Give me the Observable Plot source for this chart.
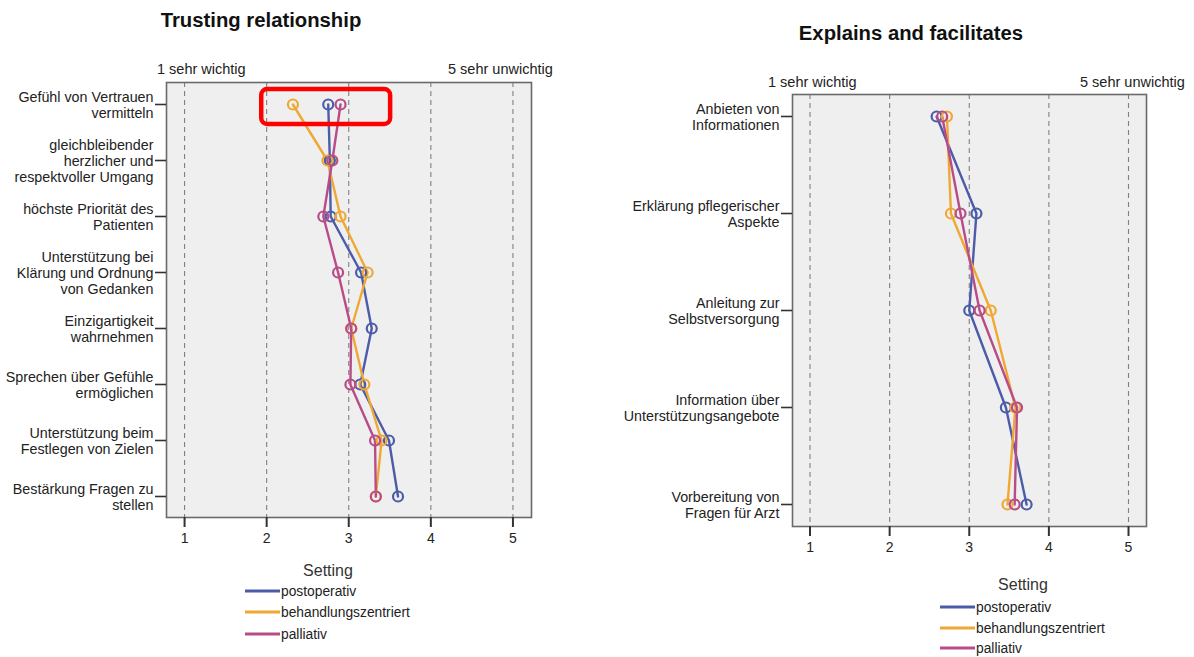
<!DOCTYPE html>
<html><head><meta charset="utf-8">
<script src="https://cdn.jsdelivr.net/npm/d3@7"></script>
<script src="https://cdn.jsdelivr.net/npm/@observablehq/plot@0.6"></script>
<style>
body{margin:0;background:#fff;font-family:"Liberation Sans",Arial,sans-serif;}
#root{position:relative;width:1194px;height:657px;overflow:hidden;}
.abs{position:absolute;white-space:nowrap;}
.title{font-weight:bold;font-size:20.3px;color:#111;transform:translate(-50%,-50%);}
.top{font-size:14.5px;color:#222;transform:translateY(-50%);}
.legtitle{font-size:16px;color:#333;transform:translate(-50%,-50%);}
.legitem{font-size:13.8px;color:#222;display:flex;align-items:center;transform:translateY(-50%);}
.legitem span.sw{display:inline-block;width:35px;height:2.8px;margin-right:1px;}
</style></head><body><div id="root"></div><script>
const settings = ["postoperativ", "behandlungszentriert", "palliativ"];
const colors = ["#4c5ca8", "#f0a834", "#b84c87"];
const xTicks = [1, 2, 3, 4, 5];
const topLabels = ["1 sehr wichtig", "5 sehr unwichtig"];

const trustTitle = "Trusting relationship";
const trustItems = [
  "Gefühl von Vertrauen\nvermitteln",
  "gleichbleibender\nherzlicher und\nrespektvoller Umgang",
  "höchste Priorität des\nPatienten",
  "Unterstützung bei\nKlärung und Ordnung\nvon Gedanken",
  "Einzigartigkeit\nwahrnehmen",
  "Sprechen über Gefühle\nermöglichen",
  "Unterstützung beim\nFestlegen von Zielen",
  "Bestärkung Fragen zu\nstellen"
];
const trustPost = [2.75, 2.77, 2.78, 3.15, 3.28, 3.14, 3.49, 3.60];
const trustBeh  = [2.32, 2.74, 2.90, 3.23, 3.03, 3.19, 3.40, 3.33];
const trustPal  = [2.90, 2.80, 2.69, 2.87, 3.03, 3.02, 3.32, 3.33];
const trustHighlight = [{item: trustItems[0], from: 1.94, to: 3.51}];

const explTitle = "Explains and facilitates";
const explItems = [
  "Anbieten von\nInformationen",
  "Erklärung pflegerischer\nAspekte",
  "Anleitung zur\nSelbstversorgung",
  "Information über\nUnterstützungsangebote",
  "Vorbereitung von\nFragen für Arzt"
];
const explPost = [2.59, 3.09, 3.00, 3.46, 3.72];
const explBeh  = [2.72, 2.77, 3.27, 3.58, 3.48];
const explPal  = [2.66, 2.89, 3.13, 3.60, 3.57];

const root = document.getElementById("root");
function el(cls, text, left, top) {
  const d = document.createElement("div");
  d.className = "abs " + cls;
  if (text != null) d.textContent = text;
  d.style.left = left + "px"; d.style.top = top + "px";
  root.appendChild(d);
  return d;
}

function panel(o) {
  const data = [];
  o.series.forEach((vals, si) => vals.forEach((v, i) => data.push({item: o.items[i], value: v, setting: settings[si]})));
  const marks = [
    Plot.frame({fill: "#efefef", stroke: null}),
    Plot.ruleX(xTicks, {stroke: "#808080", strokeWidth: 1.1, strokeDasharray: "5,4"}),
    Plot.frame({stroke: "#6a6a6a", strokeWidth: 1.6}),
    Plot.axisX(xTicks, {anchor: "bottom", tickSize: 10, tickPadding: 6, fontSize: 14, strokeWidth: 2, stroke: "#333", fill: "#222", label: null}),
    Plot.axisY({anchor: "left", tickSize: 11, tickPadding: 2, fontSize: 14.3, lineHeight: 1.13, strokeWidth: 1.6, stroke: "#333", fill: "#222", label: null}),
    Plot.line(data, {x: "value", y: "item", z: "setting", stroke: "setting", strokeWidth: 2.4}),
    Plot.dot(data, {x: "value", y: "item", stroke: "setting", r: 5, strokeWidth: 2.2, fill: "none"})
  ];
  if (o.highlight) marks.push(Plot.rect(o.highlight, {x1: "from", x2: "to", y1: "item", y2: "item", fill: "none", stroke: "#ff0000", strokeWidth: 4.5, rx: 6, insetTop: -15, insetBottom: -20}));
  const svg = Plot.plot({
    width: o.width, height: o.height,
    marginLeft: o.ml, marginRight: o.mr, marginTop: o.mt, marginBottom: o.mb,
    style: {fontFamily: "Liberation Sans, Arial, sans-serif", fontSize: "14px", color: "#222", background: "transparent", overflow: "visible"},
    x: {domain: [0.78, 5.226], label: null},
    y: {type: "point", domain: o.items, padding: o.pad, label: null},
    color: {domain: settings, range: colors},
    marks
  });
  const wrap = document.createElement("div");
  wrap.className = "abs";
  wrap.style.left = o.left + "px"; wrap.style.top = o.top + "px";
  wrap.appendChild(svg);
  root.appendChild(wrap);
}

function legend(cx, titleY, lineX, itemYs) {
  el("legtitle", "Setting", cx, titleY);
  settings.forEach((s, i) => {
    const d = el("legitem", null, lineX, itemYs[i]);
    const sw = document.createElement("span");
    sw.className = "sw"; sw.style.background = colors[i];
    d.appendChild(sw);
    d.appendChild(document.createTextNode(s));
  });
}

// Left panel
el("title", trustTitle, 261, 20);
el("top", topLabels[0], 157, 69);
el("top", topLabels[1], 448, 69);
panel({items: trustItems, series: [trustPost, trustBeh, trustPal], highlight: trustHighlight,
  left: 0, top: 50, width: 560, height: 510, ml: 166, mr: 29, mt: 32, mb: 43, pad: 0.38});
legend(328, 571, 245, [591, 612, 634]);

// Right panel
el("title", explTitle, 911, 33);
el("top", topLabels[0], 768, 82);
el("top", topLabels[1], 1080, 82);
panel({items: explItems, series: [explPost, explBeh, explPal],
  left: 600, top: 60, width: 594, height: 510, ml: 192, mr: 48, mt: 34, mb: 44, pad: 0.22});
legend(1023, 585, 940, [607, 628, 648]);
</script></body></html>
